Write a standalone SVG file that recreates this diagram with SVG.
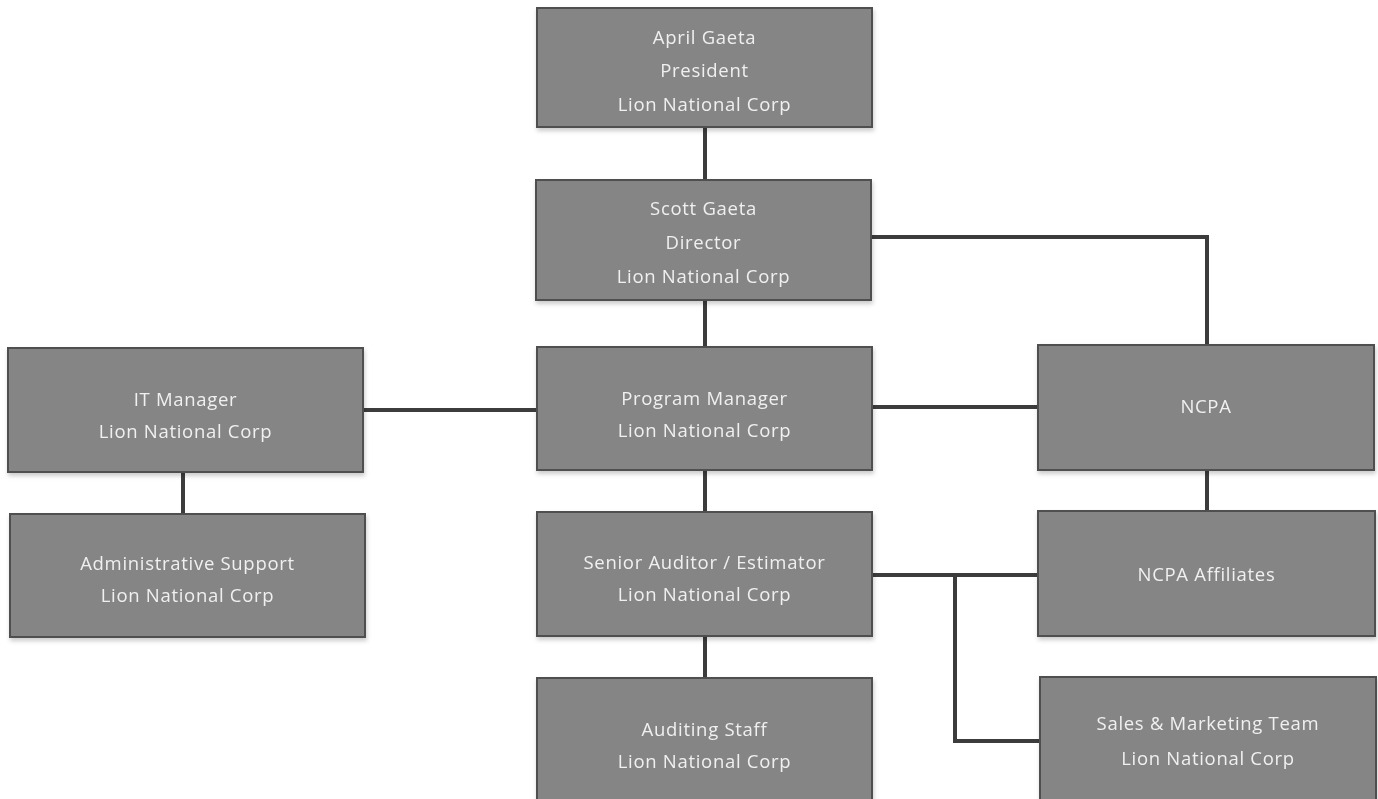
<svg xmlns="http://www.w3.org/2000/svg" width="1378" height="799" viewBox="0 0 1378 799">
<defs>
<style>
.box{fill:#858585;stroke:#505050;stroke-width:2}
.t{font-family:"Open Sans","Liberation Sans",sans-serif;font-size:18.5px;fill:#f0f0f0;text-anchor:middle;letter-spacing:0.7px}
.c{fill:none;stroke:#3c3c3c;stroke-width:4}
</style>
<filter id="sh" x="-5%" y="-5%" width="110%" height="120%"><feDropShadow dx="1" dy="3" stdDeviation="2" flood-color="#000" flood-opacity="0.2"/></filter>
</defs>
<rect width="1378" height="799" fill="#ffffff"/>
<g id="connectors">
<path class="c" d="M705 127V180"/>
<path class="c" d="M705 300V347"/>
<path class="c" d="M871 237H1207V345"/>
<path class="c" d="M363 410H537"/>
<path class="c" d="M872 407H1038"/>
<path class="c" d="M183 472V514"/>
<path class="c" d="M705 470V512"/>
<path class="c" d="M705 636V678"/>
<path class="c" d="M1207 470V511"/>
<path class="c" d="M872 575H1038"/>
<path class="c" d="M955 575V741H1040"/>
</g>
<g id="april" filter="url(#sh)"><rect class="box" x="537" y="8" width="335" height="119"/>
<text class="t" x="704.500" y="44">April Gaeta</text><text class="t" x="704.500" y="77">President</text><text class="t" x="704.500" y="111">Lion National Corp</text></g>
<g id="scott" filter="url(#sh)"><rect class="box" x="536" y="180" width="335" height="120"/>
<text class="t" x="703.500" y="215">Scott Gaeta</text><text class="t" x="703.500" y="249">Director</text><text class="t" x="703.500" y="283">Lion National Corp</text></g>
<g id="program" filter="url(#sh)"><rect class="box" x="537" y="347" width="335" height="123"/>
<text class="t" x="704.500" y="405">Program Manager</text><text class="t" x="704.500" y="437">Lion National Corp</text></g>
<g id="it" filter="url(#sh)"><rect class="box" x="8" y="348" width="355" height="124"/>
<text class="t" x="185.500" y="406">IT Manager</text><text class="t" x="185.500" y="438">Lion National Corp</text></g>
<g id="admin" filter="url(#sh)"><rect class="box" x="10" y="514" width="355" height="123"/>
<text class="t" x="187.500" y="570">Administrative Support</text><text class="t" x="187.500" y="602">Lion National Corp</text></g>
<g id="senior" filter="url(#sh)"><rect class="box" x="537" y="512" width="335" height="124"/>
<text class="t" x="704.500" y="569">Senior Auditor / Estimator</text><text class="t" x="704.500" y="601">Lion National Corp</text></g>
<g id="auditing" filter="url(#sh)"><rect class="box" x="537" y="678" width="335" height="125"/>
<text class="t" x="704.500" y="736">Auditing Staff</text><text class="t" x="704.500" y="768">Lion National Corp</text></g>
<g id="ncpa" filter="url(#sh)"><rect class="box" x="1038" y="345" width="336" height="125"/>
<text class="t" x="1206" y="413">NCPA</text></g>
<g id="affiliates" filter="url(#sh)"><rect class="box" x="1038" y="511" width="337" height="125"/>
<text class="t" x="1206.500" y="581">NCPA Affiliates</text></g>
<g id="sales" filter="url(#sh)"><rect class="box" x="1040" y="677" width="336" height="126"/>
<text class="t" x="1208" y="730">Sales &amp; Marketing Team</text><text class="t" x="1208" y="765">Lion National Corp</text></g>
</svg>
